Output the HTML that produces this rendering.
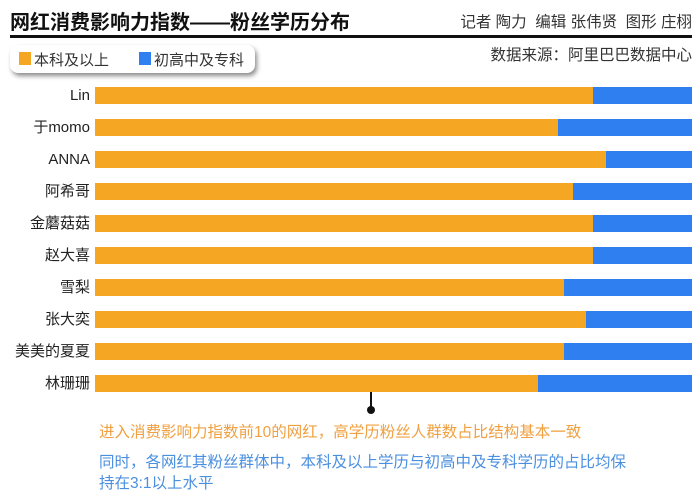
<!DOCTYPE html>
<html><head><meta charset="utf-8"><style>
body{margin:0;width:700px;height:493px;background:#fff;position:relative;overflow:hidden;font-family:"Liberation Sans","Noto Sans CJK SC",sans-serif;}
.a{position:absolute;white-space:nowrap}
.lab{position:absolute;right:610px;font-size:15px;color:#222;line-height:17px}
.bar{position:absolute;left:95px;width:597px;height:17px;background:#2f7ff0}
.bar i{display:block;height:100%;background:#f5a623}
</style></head><body>
<div class="a" style="left:10px;top:6px;font-size:20px;font-weight:bold;color:#111">网红消费影响力指数——粉丝学历分布</div>
<div class="a" style="right:8px;top:10px;font-size:15.5px;color:#333">记者 陶力 &nbsp;编辑 张伟贤 &nbsp;图形 庄栩</div>
<div class="a" style="left:10px;top:35px;width:682px;height:3px;background:#111"></div>
<div class="a" style="right:8px;top:43px;font-size:15.5px;color:#333">数据来源：阿里巴巴数据中心</div>
<div class="a" style="left:10px;top:45px;width:245px;height:28px;border-radius:8px;background:#fff;box-shadow:2px 3px 5px rgba(0,0,0,.45)"></div>
<div class="a" style="left:19px;top:52px;width:12px;height:13px;background:#f5a623"></div>
<div class="a" style="left:34px;top:49px;font-size:15px;color:#333">本科及以上</div>
<div class="a" style="left:139px;top:52px;width:12px;height:13px;background:#2f7ff0"></div>
<div class="a" style="left:154px;top:49px;font-size:15px;color:#333">初高中及专科</div>

<div class="lab" style="top:87px">Lin</div><div class="bar" style="top:87px"><i style="width:498px"></i></div>
<div class="lab" style="top:119px">于momo</div><div class="bar" style="top:119px"><i style="width:463px"></i></div>
<div class="lab" style="top:151px">ANNA</div><div class="bar" style="top:151px"><i style="width:511px"></i></div>
<div class="lab" style="top:183px">阿希哥</div><div class="bar" style="top:183px"><i style="width:478px"></i></div>
<div class="lab" style="top:215px">金蘑菇菇</div><div class="bar" style="top:215px"><i style="width:498px"></i></div>
<div class="lab" style="top:247px">赵大喜</div><div class="bar" style="top:247px"><i style="width:498px"></i></div>
<div class="lab" style="top:279px">雪梨</div><div class="bar" style="top:279px"><i style="width:469px"></i></div>
<div class="lab" style="top:311px">张大奕</div><div class="bar" style="top:311px"><i style="width:491px"></i></div>
<div class="lab" style="top:343px">美美的夏夏</div><div class="bar" style="top:343px"><i style="width:469px"></i></div>
<div class="lab" style="top:375px">林珊珊</div><div class="bar" style="top:375px"><i style="width:443px"></i></div>

<div class="a" style="left:370px;top:392px;width:2px;height:16px;background:#111"></div>
<div class="a" style="left:367px;top:406px;width:8px;height:8px;border-radius:50%;background:#111"></div>
<div class="a" style="left:99px;top:420px;font-size:15.5px;color:#f0a040">进入消费影响力指数前10的网红，高学历粉丝人群数占比结构基本一致</div>
<div class="a" style="left:99px;top:450px;font-size:15.5px;color:#4a8fe0">同时，各网红其粉丝群体中，本科及以上学历与初高中及专科学历的占比均保</div>
<div class="a" style="left:99px;top:471px;font-size:15.5px;color:#4a8fe0">持在3:1以上水平</div>
</body></html>
